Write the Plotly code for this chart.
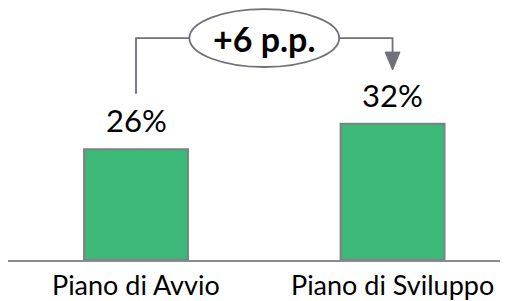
import plotly.graph_objects as go

categories = ["Piano di Avvio", "Piano di Sviluppo"]
values = [26, 32]
value_labels = ["26%", "32%"]
delta_label = "+6 p.p."

FONT = "Lato"
GREEN = "#3cb878"
GREY = "#70707a"

x_pos = list(range(len(categories)))

fig = go.Figure()
fig.add_trace(go.Bar(
    x=x_pos, y=values, width=0.405,
    marker=dict(color=GREEN, line=dict(color="#7f7f85", width=2)),
    hoverinfo="skip",
))

annotations = []
for xp, v, lab in zip(x_pos, values, value_labels):
    annotations.append(dict(x=xp, y=v, text=lab, showarrow=False, xref="x", yref="y",
                            yanchor="bottom", yshift=8,
                            font=dict(family=FONT, size=31, color="#000000")))
for xp, cat in zip(x_pos, categories):
    annotations.append(dict(x=xp, y=0, text=cat, showarrow=False, xref="x", yref="y",
                            yanchor="top", yshift=-7, borderpad=0,
                            font=dict(family=FONT, size=27, color="#000000")))

# bracket geometry derived from the data
top_y = max(values) + 20.1
left_bottom = values[0] + 13
right_tip = values[1] + 12.6
mid_x = (x_pos[0] + x_pos[1]) / 2
ell_rx, ell_ry = 0.292, 6.8
head_h, head_w = 4.2, 0.029

shapes = [
    dict(type="path", xref="x", yref="y",
         path=f"M {x_pos[0]},{left_bottom} L {x_pos[0]},{top_y} L {mid_x - ell_rx},{top_y}",
         line=dict(color=GREY, width=1.8)),
    dict(type="path", xref="x", yref="y",
         path=f"M {mid_x + ell_rx},{top_y} L {x_pos[1]},{top_y} L {x_pos[1]},{right_tip + head_h}",
         line=dict(color=GREY, width=1.8)),
    dict(type="path", xref="x", yref="y",
         path=f"M {x_pos[1] - head_w},{right_tip + head_h} L {x_pos[1] + head_w},{right_tip + head_h} L {x_pos[1]},{right_tip} Z",
         fillcolor=GREY, line=dict(color=GREY, width=1)),
    dict(type="circle", xref="x", yref="y",
         x0=mid_x - ell_rx, x1=mid_x + ell_rx, y0=top_y - ell_ry, y1=top_y + ell_ry,
         fillcolor="white", line=dict(color=GREY, width=1.8)),
]
annotations.append(dict(x=mid_x, y=top_y, text=f"<b>{delta_label}</b>", showarrow=False,
                        xref="x", yref="y", font=dict(family=FONT, size=34, color="#000000")))

# page body has an 8px default margin, so the figure is 8px smaller in each direction
fig.update_layout(
    width=500, height=293,
    margin=dict(l=0, r=0, t=0, b=41),
    paper_bgcolor="white", plot_bgcolor="white",
    showlegend=False,
    shapes=shapes, annotations=annotations,
    xaxis=dict(range=[-0.499, 1.450], tickvals=x_pos, showticklabels=False, automargin=False,
               showgrid=False, zeroline=False, showline=True, linecolor="#8a8a95", linewidth=1.5,
               ticks="", fixedrange=True),
    yaxis=dict(range=[0, 59.15], visible=False, automargin=False, fixedrange=True),
)

fig.write_html("out.html")
